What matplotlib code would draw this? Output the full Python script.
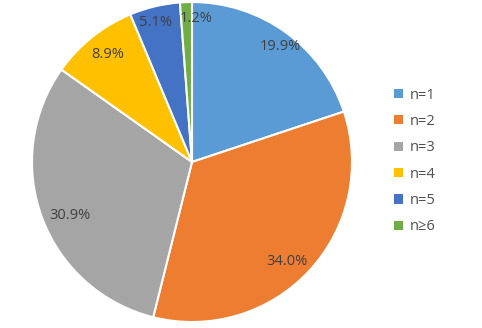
import numpy as np
import matplotlib
matplotlib.use('Agg')
import matplotlib.pyplot as plt
from matplotlib.patches import Patch

labels = ['n=1', 'n=2', 'n=3', 'n=4', 'n=5', 'n≥6']
values = [19.9, 34.0, 30.9, 8.9, 5.1, 1.2]
colors = ['#5B9BD5', '#ED7D31', '#A5A5A5', '#FFC000', '#4472C4', '#70AD47']
# percent label placement: fraction of radius, angle shift from wedge middle (deg)
label_r = [0.91, 0.86, 0.83, 0.855, 0.90, 0.90]
label_shift = [-1.4, -3.7, 3.2, -0.8, 1.2, -3.8]

plt.rcParams['font.family'] = ['Open Sans', 'DejaVu Sans']

fig = plt.figure(figsize=(4.82, 3.28), dpi=100)
ax = fig.add_axes([32 / 482, 6 / 328, 320 / 482, 320 / 328])

wedges, texts, autotexts = ax.pie(
    values, colors=colors, startangle=90, counterclock=False,
    autopct='%1.1f%%', pctdistance=0.9,
    wedgeprops=dict(edgecolor='white', linewidth=1.5),
    textprops=dict(color='#404040', fontsize=10.5))
for w, t, r, s in zip(wedges, autotexts, label_r, label_shift):
    ang = np.deg2rad((w.theta1 + w.theta2) / 2 + s)
    t.set_position((r * np.cos(ang), r * np.sin(ang)))
ax.set_xlim(-1, 1)
ax.set_ylim(-1, 1)
ax.set_aspect('equal')
ax.axis('off')

handles = [Patch(facecolor=c, edgecolor='none') for c in colors]
fig.legend(handles, labels, loc='center left', bbox_to_anchor=(388 / 482, 1 - 161 / 328),
           frameon=False, fontsize=10.5, labelcolor='#505050',
           handlelength=0.6, handleheight=0.6, handletextpad=0.5,
           labelspacing=0.78, borderaxespad=0)

fig.savefig('out.png', dpi=100)
